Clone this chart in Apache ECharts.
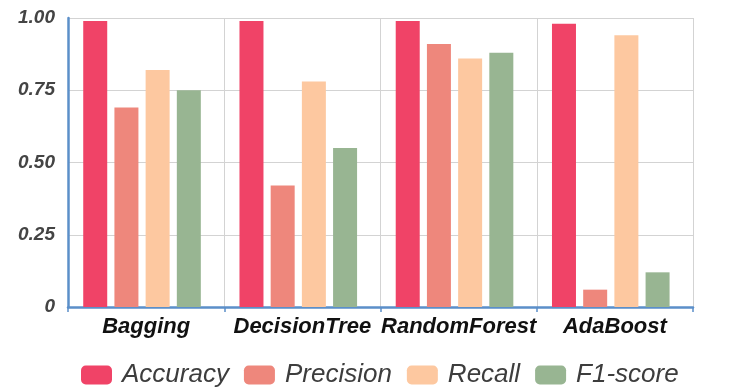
<!DOCTYPE html>
<html>
<head>
<meta charset="utf-8">
<script src="https://cdn.jsdelivr.net/npm/echarts@6/dist/echarts.min.js"></script>
<style>html,body{margin:0;padding:0;background:#fff}#c{width:743px;height:390px}</style>
</head>
<body>
<div id="c"></div>
<script>
const categories = ['Bagging', 'DecisionTree', 'RandomForest', 'AdaBoost'];
const seriesNames = ['Accuracy', 'Precision', 'Recall', 'F1-score'];
const accuracy = [0.99, 0.99, 0.99, 0.98];
const precision = [0.69, 0.42, 0.91, 0.06];
const recall = [0.82, 0.78, 0.86, 0.94];
const f1score = [0.75, 0.55, 0.88, 0.12];
const colors = ['#F04367', '#EE877C', '#FDC8A0', '#98B592'];

const values = [accuracy, precision, recall, f1score];
const chart = echarts.init(document.getElementById('c'));
const axisBlue = '#5B8FC9';
const series = seriesNames.map((n, i) => ({
  name: n, type: 'bar', data: values[i], barWidth: 24, barGap: '30%'
}));
// empty spacer column: shifts each group slightly left as in the original
series.push({ name: '_spacer', type: 'bar', data: [], barWidth: 1, barGap: '30%', silent: true });
chart.setOption({
  animation: false,
  color: colors,
  grid: { left: 68, right: 50, top: 18, bottom: 83, containLabel: false },
  legend: {
    left: 76, top: 357,
    itemWidth: 31, itemHeight: 19, itemGap: 15,
    icon: 'roundRect',
    textStyle: { fontFamily: 'Liberation Sans', fontStyle: 'italic', fontSize: 26, color: '#3d3d3d', padding: [0, 0, 0, 5] },
    data: seriesNames
  },
  xAxis: {
    type: 'category',
    data: categories,
    axisLine: { lineStyle: { color: axisBlue, width: 2.5 } },
    axisTick: { show: true, interval: 0, length: 5, lineStyle: { color: axisBlue, width: 1.5 } },
    splitLine: { show: true, interval: 0, lineStyle: { color: '#D3D3D3', width: 1 } },
    axisLabel: { interval: 0, fontFamily: 'Liberation Sans', fontWeight: 'bold', fontStyle: 'italic', fontSize: 22, color: '#111', margin: 9 }
  },
  yAxis: {
    type: 'value', min: 0, max: 1, interval: 0.25,
    axisLine: { show: true, lineStyle: { color: axisBlue, width: 2.5 } },
    axisTick: { show: false },
    splitLine: { lineStyle: { color: '#D3D3D3', width: 1 } },
    axisLabel: {
      fontFamily: 'Liberation Sans', fontWeight: 'bold', fontStyle: 'italic', fontSize: 19, color: '#444', margin: 13,
      formatter: v => v === 0 ? '0' : v.toFixed(2)
    }
  },
  series: series
});
</script>
</body>
</html>
